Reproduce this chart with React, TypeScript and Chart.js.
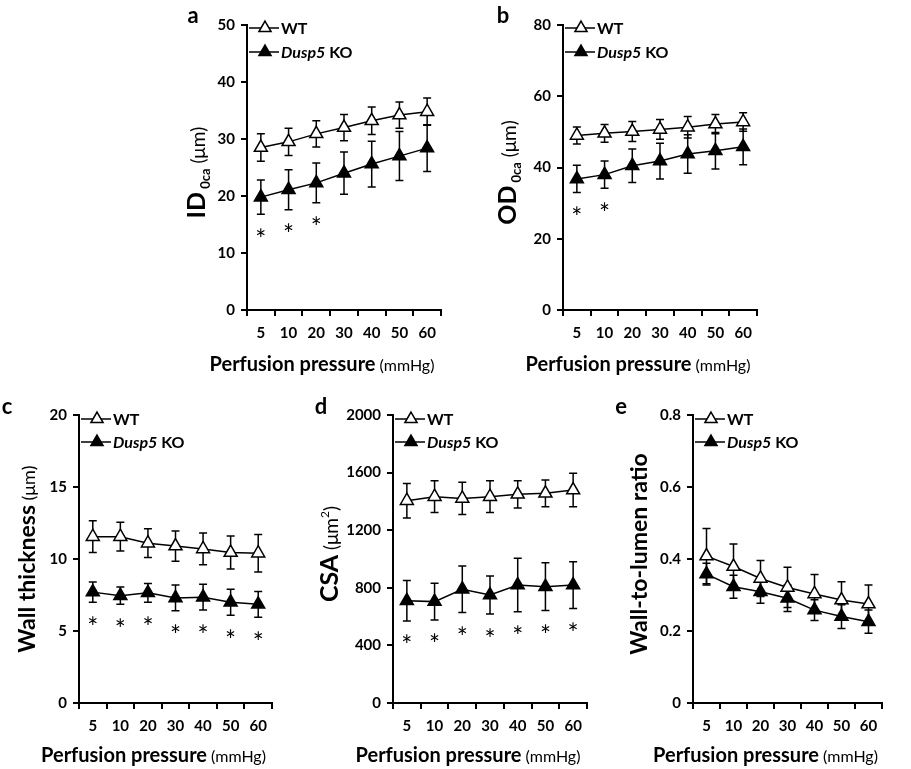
import React, { useEffect, useRef } from "react";
import { Chart, registerables } from "chart.js";

Chart.register(...registerables);

const FONT = "Lato";

// ---------- data ----------
const pressureLabels = ["5", "10", "20", "30", "40", "50", "60"];
const seriesWT = "WT";
const seriesKO = ["Dusp5", " KO"];

// a: ID 0ca (µm)
const idTicks = [0, 10, 20, 30, 40, 50];
const idWT = [28.5, 29.5, 30.9, 32.0, 33.2, 34.2, 34.8];
const idWTErr = [2.4, 2.4, 2.3, 2.3, 2.4, 2.3, 2.4];
const idKO = [19.8, 21.1, 22.3, 24.0, 25.6, 27.0, 28.4];
const idKOErr = [3.0, 3.5, 3.5, 3.7, 4.0, 4.3, 4.1];
const idSig = [true, true, true, false, false, false, false];

// b: OD 0ca (µm)
const odTicks = [0, 20, 40, 60, 80];
const odWT = [49.0, 49.6, 50.1, 50.7, 51.3, 52.2, 52.8];
const odWTErr = [2.4, 2.5, 2.8, 2.8, 3.0, 2.7, 2.6];
const odKO = [36.8, 38.0, 40.5, 41.8, 43.8, 44.7, 45.8];
const odKOErr = [3.8, 3.8, 4.7, 5.0, 5.4, 5.1, 5.0];
const odSig = [true, true, false, false, false, false, false];

// c: Wall thickness (µm)
const wallTicks = [0, 5, 10, 15, 20];
const wallWT = [11.55, 11.55, 11.1, 10.9, 10.7, 10.45, 10.4];
const wallWTErr = [1.1, 1.0, 1.0, 1.05, 1.1, 1.15, 1.3];
const wallKO = [7.7, 7.45, 7.65, 7.3, 7.35, 7.0, 6.85];
const wallKOErr = [0.7, 0.6, 0.65, 0.9, 0.9, 0.9, 0.9];
const wallSig = [true, true, true, true, true, true, true];

// d: CSA (µm²)
const csaTicks = [0, 400, 800, 1200, 1600, 2000];
const csaWT = [1405, 1433, 1421, 1433, 1449, 1456, 1479];
const csaWTErr = [120, 110, 112, 110, 95, 93, 116];
const csaKO = [710, 704, 790, 750, 819, 808, 819];
const csaKOErr = [140, 127, 161, 132, 186, 166, 162];
const csaSig = [true, true, true, true, true, true, true];

// e: Wall-to-lumen ratio
const ratioTicks = [0, 0.2, 0.4, 0.6, 0.8];
const ratioWT = [0.408, 0.379, 0.346, 0.321, 0.303, 0.286, 0.275];
const ratioWTErr = [0.077, 0.063, 0.05, 0.056, 0.054, 0.051, 0.053];
const ratioKO = [0.358, 0.323, 0.309, 0.291, 0.258, 0.24, 0.226];
const ratioKOErr = [0.03, 0.032, 0.032, 0.037, 0.029, 0.033, 0.032];
const ratioSig = [false, false, false, false, false, false, false];

// ---------- layout / styles ----------
type Run = { text: string; font: string; dy?: number };

const PAD_TOP = 22;
const PAD_RIGHT = 22;
const X_H = 72;

const xTitleRuns: Run[] = [
  { text: "Perfusion pressure", font: `bold 20px ${FONT}` },
  { text: " (mmHg)", font: `16px ${FONT}`, dy: 0 },
];

interface PanelSpec {
  letter: string;
  letterDx: number;
  letterDy: number;
  ticks: number[];
  wt: number[];
  wtErr: number[];
  ko: number[];
  koErr: number[];
  sig: boolean[];
  yTitle: Run[];
  yTitleDx: number;
  yTitleDy: number;
  plotLeft: number;
  plotTop: number;
  plotW: number;
  plotH: number;
  leftSpace: number;
  legendDy: [number, number];
  xTitleDy: number;
}

const panels: PanelSpec[] = [
  {
    letter: "a", letterDx: -54, letterDy: -9,
    ticks: idTicks, wt: idWT, wtErr: idWTErr, ko: idKO, koErr: idKOErr, sig: idSig,
    yTitle: [
      { text: "ID", font: `bold 25px ${FONT}` },
      { text: " 0ca", font: `bold 13px ${FONT}`, dy: 5 },
      { text: " (μm)", font: `19px ${FONT}` },
    ],
    yTitleDx: -51, yTitleDy: 5,
    plotLeft: 247, plotTop: 25, plotW: 194, plotH: 285, leftSpace: 80, legendDy: [3, 27], xTitleDy: 61,
  },
  {
    letter: "b", letterDx: -60, letterDy: -9,
    ticks: odTicks, wt: odWT, wtErr: odWTErr, ko: odKO, koErr: odKOErr, sig: odSig,
    yTitle: [
      { text: "OD", font: `bold 25px ${FONT}` },
      { text: " 0ca", font: `bold 13px ${FONT}`, dy: 5 },
      { text: " (μm)", font: `19px ${FONT}` },
    ],
    yTitleDx: -56, yTitleDy: 5,
    plotLeft: 563, plotTop: 25, plotW: 194, plotH: 285, leftSpace: 80, legendDy: [3, 27], xTitleDy: 61,
  },
  {
    letter: "c", letterDx: -72, letterDy: -8,
    ticks: wallTicks, wt: wallWT, wtErr: wallWTErr, ko: wallKO, koErr: wallKOErr, sig: wallSig,
    yTitle: [
      { text: "Wall thickness", font: `bold 23px ${FONT}` },
      { text: " (μm)", font: `18px ${FONT}` },
    ],
    yTitleDx: -53, yTitleDy: 0,
    plotLeft: 79, plotTop: 415, plotW: 193, plotH: 288, leftSpace: 79, legendDy: [4, 27], xTitleDy: 59,
  },
  {
    letter: "d", letterDx: -72, letterDy: -8,
    ticks: csaTicks, wt: csaWT, wtErr: csaWTErr, ko: csaKO, koErr: csaKOErr, sig: csaSig,
    yTitle: [
      { text: "CSA", font: `bold 25px ${FONT}` },
      { text: " (μm", font: `19px ${FONT}` },
      { text: "2", font: `12px ${FONT}`, dy: -9 },
      { text: ")", font: `19px ${FONT}` },
    ],
    yTitleDx: -64, yTitleDy: -5,
    plotLeft: 393, plotTop: 415, plotW: 194, plotH: 288, leftSpace: 80, legendDy: [4, 27], xTitleDy: 59,
  },
  {
    letter: "e", letterDx: -72, letterDy: -8,
    ticks: ratioTicks, wt: ratioWT, wtErr: ratioWTErr, ko: ratioKO, koErr: ratioKOErr, sig: ratioSig,
    yTitle: [{ text: "Wall-to-lumen ratio", font: `bold 23px ${FONT}` }],
    yTitleDx: -55, yTitleDy: -5,
    plotLeft: 693, plotTop: 415, plotW: 189, plotH: 288, leftSpace: 80, legendDy: [4, 27], xTitleDy: 59,
  },
];

// ---------- drawing helpers ----------
function runsWidth(ctx: CanvasRenderingContext2D, runs: Run[]) {
  let w = 0;
  for (const r of runs) {
    ctx.font = r.font;
    w += ctx.measureText(r.text).width;
  }
  return w;
}

function drawRuns(ctx: CanvasRenderingContext2D, runs: Run[], x: number, baseline: number) {
  let cx = x;
  for (const r of runs) {
    ctx.font = r.font;
    ctx.fillText(r.text, cx, baseline + (r.dy || 0));
    cx += ctx.measureText(r.text).width;
  }
}

function triangle(ctx: CanvasRenderingContext2D, x: number, y: number, r: number, fill: string) {
  ctx.beginPath();
  for (let k = 0; k < 3; k++) {
    const a = (k * 2 * Math.PI) / 3;
    const px = x + Math.sin(a) * r;
    const py = y - Math.cos(a) * r;
    if (k === 0) ctx.moveTo(px, py);
    else ctx.lineTo(px, py);
  }
  ctx.closePath();
  ctx.fillStyle = fill;
  ctx.fill();
  ctx.lineWidth = 1.5;
  ctx.strokeStyle = "#000";
  ctx.stroke();
}

function makeDecor(spec: PanelSpec) {
  return {
    id: "decor" + spec.letter,
    beforeDatasetsDraw(chart: any) {
      const ctx: CanvasRenderingContext2D = chart.ctx;
      const ys = chart.scales.y;
      ctx.save();
      ctx.strokeStyle = "#000";
      ctx.lineWidth = 1.5;
      const sets: [number[], number[], number][] = [
        [spec.ko, spec.koErr, 1],
        [spec.wt, spec.wtErr, 0],
      ];
      for (const [vals, errs, di] of sets) {
        const meta = chart.getDatasetMeta(di);
        vals.forEach((v, i) => {
          const x = meta.data[i].x;
          const yT = ys.getPixelForValue(v + errs[i]);
          const yB = ys.getPixelForValue(v - errs[i]);
          ctx.beginPath();
          ctx.moveTo(x, yT);
          ctx.lineTo(x, yB);
          ctx.moveTo(x - 4, yT);
          ctx.lineTo(x + 4, yT);
          ctx.moveTo(x - 4, yB);
          ctx.lineTo(x + 4, yB);
          ctx.stroke();
        });
      }
      ctx.restore();
    },
    afterDraw(chart: any) {
      const ctx: CanvasRenderingContext2D = chart.ctx;
      const area = chart.chartArea;
      const ys = chart.scales.y;
      ctx.save();
      ctx.fillStyle = "#000";
      ctx.textBaseline = "alphabetic";
      ctx.textAlign = "left";

      // asterisks
      const metaKO = chart.getDatasetMeta(1);
      ctx.font = `26px ${FONT}`;
      ctx.textAlign = "center";
      const am = ctx.measureText("*");
      const aOff = (am.actualBoundingBoxDescent - am.actualBoundingBoxAscent) / 2;
      spec.sig.forEach((s, i) => {
        if (!s) return;
        const x = metaKO.data[i].x;
        const yB = ys.getPixelForValue(spec.ko[i] - spec.koErr[i]);
        ctx.fillText("*", x, yB + 18 - aOff);
      });
      ctx.textAlign = "left";

      // legend
      const L = area.left;
      const rows: { y: number; fill: string; runs: Run[] }[] = [
        { y: area.top + spec.legendDy[0], fill: "#fff", runs: [{ text: seriesWT, font: `bold 16px ${FONT}` }] },
        {
          y: area.top + spec.legendDy[1],
          fill: "#000",
          runs: [
            { text: seriesKO[0], font: `italic bold 16px ${FONT}` },
            { text: seriesKO[1], font: `bold 16px ${FONT}` },
          ],
        },
      ];
      for (const row of rows) {
        ctx.beginPath();
        ctx.strokeStyle = "#000";
        ctx.lineWidth = 1.5;
        ctx.moveTo(L + 2, row.y);
        ctx.lineTo(L + 32, row.y);
        ctx.stroke();
        triangle(ctx, L + 18, row.y, 7, row.fill);
        ctx.fillStyle = "#000";
        drawRuns(ctx, row.runs, L + 34, row.y + 6);
      }

      // panel letter
      ctx.font = `bold 22px ${FONT}`;
      ctx.textAlign = "center";
      ctx.textBaseline = "middle";
      ctx.fillText(spec.letter, area.left + spec.letterDx, area.top + spec.letterDy);
      ctx.textAlign = "left";
      ctx.textBaseline = "alphabetic";

      // x title
      const xw = runsWidth(ctx, xTitleRuns);
      const xc = (area.left + area.right) / 2 - 22;
      drawRuns(ctx, xTitleRuns, xc - xw / 2, area.bottom + spec.xTitleDy);

      // y title (rotated)
      const yw = runsWidth(ctx, spec.yTitle);
      const cx = area.left + spec.yTitleDx;
      const cy = (area.top + area.bottom) / 2 + spec.yTitleDy;
      ctx.translate(cx, cy);
      ctx.rotate(-Math.PI / 2);
      drawRuns(ctx, spec.yTitle, -yw / 2, 9);
      ctx.restore();
    },
  };
}

function PanelChart({ spec }: { spec: PanelSpec }) {
  const ref = useRef<HTMLCanvasElement>(null);
  const cw = spec.leftSpace + spec.plotW + PAD_RIGHT;
  const ch = PAD_TOP + spec.plotH + X_H;
  useEffect(() => {
    const canvas = ref.current!;
    const tickFont = { family: FONT, size: 15, weight: "bold" as const };
    const chart = new Chart(canvas, {
      type: "line",
      data: {
        labels: pressureLabels,
        datasets: [
          {
            label: seriesWT,
            data: spec.wt,
            borderColor: "#000",
            borderWidth: 1.5,
            pointStyle: "triangle",
            pointRadius: 7.5,
            pointBackgroundColor: "#fff",
            pointBorderColor: "#000",
            pointBorderWidth: 1.5,
            tension: 0,
          },
          {
            label: seriesKO.join(""),
            data: spec.ko,
            borderColor: "#000",
            borderWidth: 1.5,
            pointStyle: "triangle",
            pointRadius: 7.5,
            pointBackgroundColor: "#000",
            pointBorderColor: "#000",
            pointBorderWidth: 1.5,
            tension: 0,
          },
        ],
      },
      options: {
        responsive: false,
        animation: false,
        devicePixelRatio: 1,
        layout: { padding: { top: PAD_TOP, right: PAD_RIGHT, left: 0, bottom: 0 } },
        plugins: {
          legend: { display: false },
          tooltip: { enabled: false },
          title: { display: false },
        },
        scales: {
          x: {
            type: "category",
            offset: true,
            grid: {
              offset: true,
              drawOnChartArea: false,
              drawTicks: true,
              tickLength: 6,
              color: "#000",
              lineWidth: 2,
            },
            border: { display: true, color: "#000", width: 2 },
            ticks: {
              color: "#000",
              font: { family: FONT, size: 15, weight: "bold" },
              padding: 8,
              maxRotation: 0,
              autoSkip: false,
            },
            afterFit: (s: any) => {
              s.height = X_H;
            },
          },
          y: {
            type: "linear",
            min: spec.ticks[0],
            max: spec.ticks[spec.ticks.length - 1],
            afterBuildTicks: (s: any) => {
              s.ticks = spec.ticks.map((v) => ({ value: v }));
            },
            ticks: {
              color: "#000",
              font: tickFont,
              padding: 6,
              callback: (v: any) => String(Math.round(Number(v) * 1000) / 1000),
            },
            grid: {
              drawOnChartArea: false,
              drawTicks: true,
              tickLength: 6,
              color: "#000",
              lineWidth: 2,
            },
            border: { display: true, color: "#000", width: 2 },
            afterFit: (s: any) => {
              s.width = spec.leftSpace;
            },
          },
        },
      },
      plugins: [makeDecor(spec)],
    } as any);
    return () => chart.destroy();
  }, [spec]);
  return (
    <canvas
      ref={ref}
      width={cw}
      height={ch}
      style={{
        position: "absolute",
        left: spec.plotLeft - spec.leftSpace,
        top: spec.plotTop - PAD_TOP,
        width: cw,
        height: ch,
      }}
    />
  );
}

export default function App() {
  return (
    <div
      style={{
        position: "fixed",
        left: 0,
        top: 0,
        width: 911,
        height: 769,
        background: "#fff",
        overflow: "hidden",
      }}
    >
      {panels.map((p) => (
        <PanelChart key={p.letter} spec={p} />
      ))}
    </div>
  );
}
